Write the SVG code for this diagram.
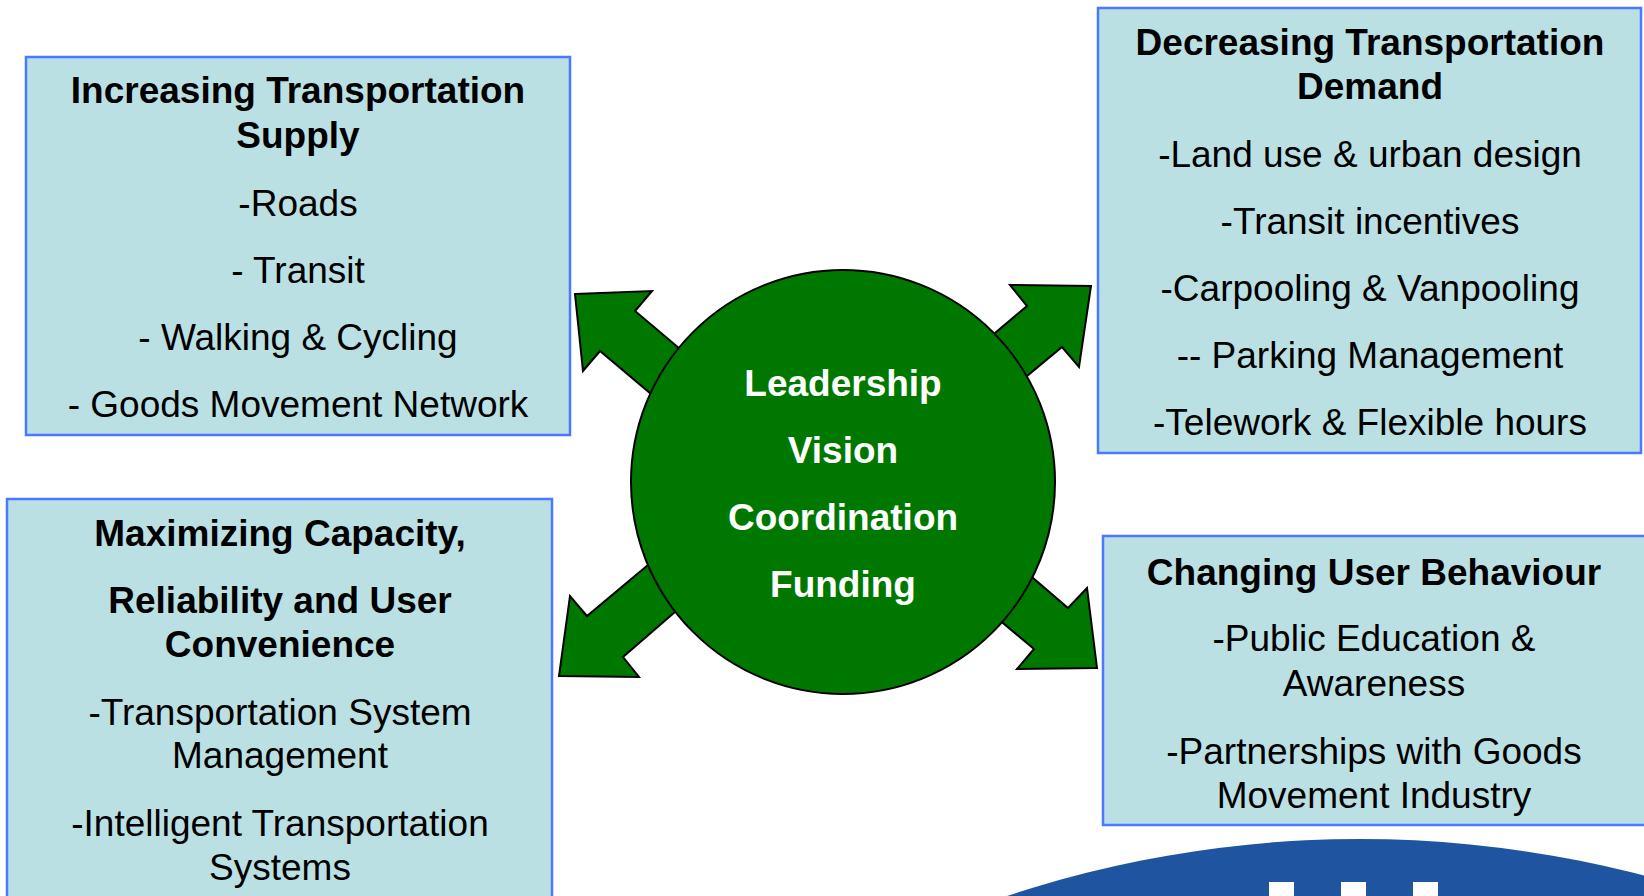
<svg xmlns="http://www.w3.org/2000/svg" width="1644" height="896" viewBox="0 0 1644 896">
<style>
.box{fill:#BBE0E3;stroke:#4A78FF;stroke-width:2.5}
.t{font-family:"Liberation Sans",Arial,sans-serif;font-size:37px;fill:#000;text-anchor:middle}
.b{font-weight:bold}
.c{font-family:"Liberation Sans",Arial,sans-serif;font-size:37px;font-weight:bold;fill:#fff;text-anchor:middle}
.arrow{fill:#007800;stroke:#000;stroke-width:2;stroke-linejoin:miter}
</style>
<rect width="1644" height="896" fill="#fff"/>
<g id="logo">
<circle cx="1360" cy="1960" r="1121" fill="#1F55A0"/>
<rect x="1269" y="882" width="25" height="20" fill="#fff"/>
<rect x="1341" y="882" width="25" height="20" fill="#fff"/>
<rect x="1413" y="882" width="25" height="20" fill="#fff"/>
</g>
<g id="supply">
<rect class="box" x="26" y="57" width="544" height="378"/>
<text class="t b" x="298" y="103">Increasing Transportation</text>
<text class="t b" x="298" y="148">Supply</text>
<text class="t" x="298" y="216">-Roads</text>
<text class="t" x="298" y="283">- Transit</text>
<text class="t" x="298" y="350">- Walking &amp; Cycling</text>
<text class="t" x="298" y="417">- Goods Movement Network</text>
</g>
<g id="demand">
<rect class="box" x="1098" y="8" width="543" height="445"/>
<text class="t b" x="1370" y="55">Decreasing Transportation</text>
<text class="t b" x="1370" y="99">Demand</text>
<text class="t" x="1370" y="167">-Land use &amp; urban design</text>
<text class="t" x="1370" y="234">-Transit incentives</text>
<text class="t" x="1370" y="301">-Carpooling &amp; Vanpooling</text>
<text class="t" x="1370" y="368">-- Parking Management</text>
<text class="t" x="1370" y="435">-Telework &amp; Flexible hours</text>
</g>
<g id="capacity">
<rect class="box" x="7" y="499" width="545" height="420"/>
<text class="t b" x="280" y="546">Maximizing Capacity,</text>
<text class="t b" x="280" y="613">Reliability and User</text>
<text class="t b" x="280" y="657">Convenience</text>
<text class="t" x="280" y="725">-Transportation System</text>
<text class="t" x="280" y="768">Management</text>
<text class="t" x="280" y="836">-Intelligent Transportation</text>
<text class="t" x="280" y="880">Systems</text>
</g>
<g id="behaviour">
<rect class="box" x="1103" y="536" width="560" height="289"/>
<text class="t b" x="1374" y="585">Changing User Behaviour</text>
<text class="t" x="1374" y="651">-Public Education &amp;</text>
<text class="t" x="1374" y="696">Awareness</text>
<text class="t" x="1374" y="764">-Partnerships with Goods</text>
<text class="t" x="1374" y="808">Movement Industry</text>
</g>
<g id="connectors">
<polygon class="arrow" points="575,294 652,291 635,311 758,415 727,458 600,351 583,371"/>
<polygon class="arrow" points="1010,285 1091,286 1079,367 1062,347 922,463 899,414 1027,306"/>
<polygon class="arrow" points="770,463 587,616 570,596 559,676 639,677 623,657 779,522"/>
<polygon class="arrow" points="928,488 1068,608 1087,588 1097,668 1017,669 1034,649 910,545"/>
</g>
<g id="hub">
<circle cx="843" cy="482" r="212" fill="#007800" stroke="#000" stroke-width="2"/>
<text class="c" x="843" y="396">Leadership</text>
<text class="c" x="843" y="463">Vision</text>
<text class="c" x="843" y="530">Coordination</text>
<text class="c" x="843" y="597">Funding</text>
</g>
</svg>
